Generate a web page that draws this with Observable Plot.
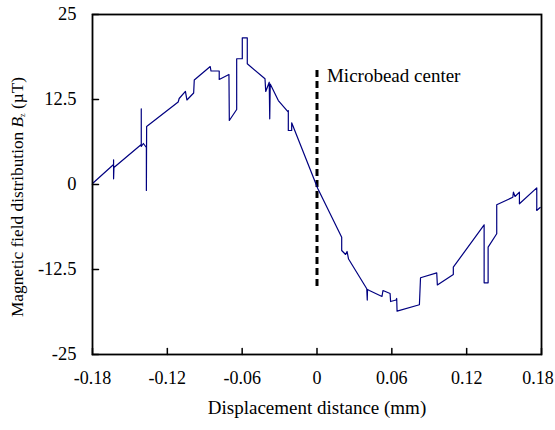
<!DOCTYPE html>
<html>
<head>
<meta charset="utf-8">
<script src="https://cdn.jsdelivr.net/npm/d3@7"></script>
<script src="https://cdn.jsdelivr.net/npm/@observablehq/plot@0.6"></script>
<style>
  html, body { margin: 0; padding: 0; background: #fff; }
</style>
</head>
<body>
<div id="chart"></div>
<script>
// Displacement distance (mm)
const displacement = [
  -0.180, -0.1631, -0.1631, -0.1631, -0.1628, -0.1409, -0.1409, -0.1409, -0.1392, -0.1368,
  -0.1368, -0.1366, -0.1113, -0.1105, -0.1055, -0.1043, -0.0989, -0.0984, -0.0856, -0.0850,
  -0.0784, -0.0784, -0.0706, -0.0703, -0.0644, -0.0644, -0.0599, -0.0599, -0.0559, -0.0559,
  -0.0417, -0.0411, -0.0383, -0.0379, -0.0375, -0.0310, -0.0230, -0.0230, -0.0230, -0.0203,
  -0.0203, 0.0006, 0.0198, 0.0198, 0.0229, 0.0241, 0.0253, 0.0399, 0.0403, 0.0405,
  0.0420, 0.0521, 0.0529, 0.0586, 0.0590, 0.0634, 0.0639, 0.0642, 0.0821, 0.0830,
  0.0960, 0.0965, 0.1093, 0.1093, 0.1340, 0.1340, 0.1372, 0.1372, 0.1441, 0.1441,
  0.1570, 0.1575, 0.1588, 0.1623, 0.1623, 0.1762, 0.1762, 0.1789
];
// Magnetic field distribution Bz (µT)
const field = [
  0.15, 2.94, 3.63, 0.84, 2.50, 5.88, 11.13, 5.59, 6.03, 5.44,
  -0.88, 8.53, 12.13, 12.65, 13.68, 12.43, 13.46, 15.37, 17.35, 16.69,
  16.69, 15.44, 16.18, 9.41, 11.03, 18.49, 18.49, 21.57, 21.57, 17.75,
  15.54, 13.68, 15.04, 9.66, 14.78, 12.35, 10.63, 10.88, 7.94, 7.94,
  9.07, -0.59, -7.75, -9.71, -10.29, -9.85, -10.96, -15.34, -16.99, -15.44,
  -15.59, -16.47, -15.59, -16.03, -17.21, -16.99, -16.76, -18.63, -17.69, -13.72,
  -12.99, -14.78, -13.24, -12.16, -5.93, -14.46, -14.46, -9.22, -7.25, -2.99,
  -1.87, -1.13, -1.76, -1.13, -2.84, -0.49, -3.82, -3.38
];

const xTicks = [-0.18, -0.12, -0.06, 0, 0.06, 0.12, 0.18];
const yTicks = [25, 12.5, 0, -12.5, -25];
const xDomain = [-0.18, 0.18];
const yDomain = [-25, 25];

// Microbead center marker
const centerX = [0];
const centerRange = [-15, 17];
const annotText = ["Microbead center"];
const annotX = [0.008];
const annotY = [15.9];

const xLabel = "Displacement distance (mm)";

const rows = displacement.map((d, i) => ({x: d, y: field[i]}));
const tickShape = {draw(ctx, l) { ctx.moveTo(0, 0); ctx.lineTo(0, -l); }};
const FONT = "'Liberation Serif', 'Times New Roman', serif";
const fmt = d => String(d);

const chart = Plot.plot({
  width: 555,
  height: 430,
  marginLeft: 92,
  marginRight: 14,
  marginTop: 14,
  marginBottom: 76,
  style: {fontFamily: FONT, fontSize: "18px", background: "#fff", color: "#000", overflow: "visible"},
  x: {domain: xDomain},
  y: {domain: yDomain},
  marks: [
    Plot.axisX(xTicks.slice(0, -1), {tickSize: 0, tickPadding: 17, tickFormat: fmt, label: null, fontSize: 18}),
    Plot.axisX(xTicks.slice(-1), {tickSize: 0, tickPadding: 17, tickFormat: fmt, label: null, fontSize: 18, dx: -3.5}),
    Plot.axisY(yTicks, {tickSize: 0, tickPadding: 16, tickFormat: fmt, label: null, fontSize: 18.5}),
    Plot.vector(xTicks, {x: d => d, frameAnchor: "bottom", length: 6, anchor: "start", shape: tickShape, stroke: "#000", strokeWidth: 1.5}),
    Plot.vector(yTicks, {y: d => d, frameAnchor: "left", rotate: 90, length: 6, anchor: "start", shape: tickShape, stroke: "#000", strokeWidth: 1.5}),
    Plot.ruleX(centerX, {x: d => d, y1: centerRange[0], y2: centerRange[1], stroke: "#000", strokeWidth: 3, strokeDasharray: "7,4"}),
    Plot.line(rows, {x: "x", y: "y", stroke: "#000080", strokeWidth: 1.2, curve: "linear"}),
    Plot.text(annotText, {x: annotX, y: annotY, text: d => d, textAnchor: "start", fontSize: 19, fill: "#000"}),
    Plot.text([xLabel], {text: d => d, frameAnchor: "bottom", dy: 59, fontSize: 19, fill: "#000"}),
    Plot.frame({stroke: "#000", strokeWidth: 1.8})
  ]
});

document.getElementById("chart").appendChild(chart);

// y-axis label with italic B and subscript z
const svg = d3.select(chart);
const yl = svg.append("text")
  .attr("transform", "translate(19,197) rotate(-90)")
  .attr("text-anchor", "middle")
  .attr("dominant-baseline", "middle")
  .style("font-family", FONT)
  .style("font-size", "17.3px")
  .attr("fill", "#000");
yl.append("tspan").text("Magnetic field distribution ");
yl.append("tspan").style("font-style", "italic").text("B");
yl.append("tspan").attr("baseline-shift", "sub").style("font-size", "8px").text("z");
yl.append("tspan").text(" (\u00B5T)");
</script>
</body>
</html>
